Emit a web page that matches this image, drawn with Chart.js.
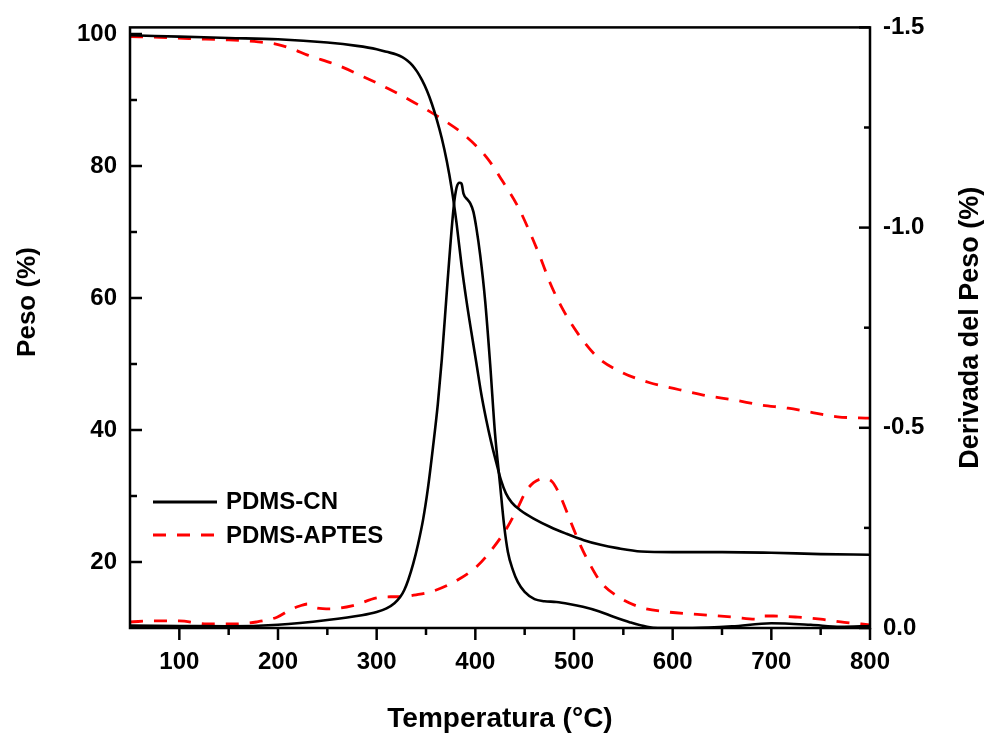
<!DOCTYPE html>
<html><head><meta charset="utf-8">
<script src="https://cdn.jsdelivr.net/npm/chart.js@4.4.1/dist/chart.umd.min.js"></script>
<style>html,body{margin:0;padding:0;background:#fff}#wrap{width:986px;height:733px;position:relative}</style>
</head><body><div id="wrap"><canvas id="c"></canvas></div>
<script>
const FONT = '"Liberation Sans", Arial, sans-serif';

// Temperature axis ticks
const xMajorTicks = [100, 200, 300, 400, 500, 600, 700, 800];
const leftTicks = [20, 40, 60, 80, 100];
const rightTicks = [-1.5, -1.0, -0.5, 0.0];

// PDMS-CN weight (%)
const cnTgT = [50,100,150,200,250,280,300,310,320,326,331,336,341,346,351,356,361,366,371,376,381,386,391,396,401,406,411,416,421,426,431,437,446,460,476,492,510,527,544,568,600,650,700,750,800];
const cnTgV = [99.8,99.6,99.4,99.2,98.7,98.2,97.7,97.3,96.9,96.5,96.0,95.3,94.3,93.0,91.4,89.4,87.0,84.2,80.8,76.6,71.3,65.0,59.6,54.8,50.2,45.5,41.6,38.2,35.2,32.4,30.4,29.0,27.8,26.5,25.3,24.3,23.3,22.6,22.1,21.6,21.5,21.5,21.4,21.2,21.1];

// PDMS-APTES weight (%)
const apTgT = [50,80,110,150,180,200,215,230,260,287,312,337,362,388,412,428,444,456,466,476,489,504,524,549,576,601,631,664,689,717,743,767,800];
const apTgV = [99.6,99.5,99.3,99.1,98.8,98.4,97.7,96.8,95.3,93.5,91.7,89.7,87.5,84.8,81.2,77.6,73.6,69.7,66.1,62.2,58.2,54.6,51.0,48.7,47.2,46.3,45.3,44.5,43.8,43.3,42.6,42.0,41.8];

// PDMS-CN derivative (%)
const cnDtT = [50,100,150,200,250,285,300,310,318,324,328,332,337,342,347,352,357,362,366,372,378,381,384,386,388,392,395,398,401,405,410,415,420,425,429,433,438,443,450,460,470,482,495,509,525,540,557,574,585,620,660,700,740,770,800];
const cnDtV = [-0.006,-0.005,-0.004,-0.008,-0.02,-0.032,-0.04,-0.049,-0.062,-0.078,-0.095,-0.12,-0.16,-0.21,-0.27,-0.35,-0.45,-0.56,-0.67,-0.87,-1.05,-1.10,-1.112,-1.11,-1.085,-1.07,-1.06,-1.04,-1.0,-0.93,-0.816,-0.66,-0.484,-0.36,-0.26,-0.19,-0.145,-0.115,-0.09,-0.072,-0.067,-0.065,-0.06,-0.053,-0.042,-0.028,-0.014,-0.003,0,0,-0.004,-0.012,-0.008,-0.003,-0.005];

// PDMS-APTES derivative (%)
const apDtT = [50,75,100,128,152,178,199,212,222,230,236,253,276,300,314,324,340,357,382,402,418,432,443,451,459,469,478,486,497,507,517,527,544,567,595,625,662,686,692,702,727,750,774,800];
const apDtV = [-0.015,-0.018,-0.018,-0.01,-0.01,-0.015,-0.027,-0.045,-0.055,-0.06,-0.052,-0.048,-0.056,-0.075,-0.078,-0.078,-0.083,-0.092,-0.12,-0.155,-0.2,-0.25,-0.3,-0.34,-0.363,-0.373,-0.365,-0.33,-0.263,-0.204,-0.155,-0.115,-0.079,-0.052,-0.04,-0.034,-0.027,-0.022,-0.03,-0.03,-0.027,-0.022,-0.014,-0.008];

const seriesNames = ['PDMS-CN', 'PDMS-APTES'];
const axisTitles = {x: 'Temperatura (°C)', y: 'Peso (%)', y2: 'Derivada del Peso (%)'};
const zip = (a, b) => a.map((x, i) => ({x, y: b[i]}));

const BLACK = '#000000', RED = '#ff0000', DASH = [13, 11];

const framePlugin = {
  id: 'frame',
  afterDraw(chart) {
    const {ctx, chartArea: a, scales} = chart;
    ctx.save();
    ctx.strokeStyle = '#000';
    ctx.lineWidth = 2.5;
    ctx.lineCap = 'butt';
    ctx.strokeRect(a.left, a.top, a.right - a.left, a.bottom - a.top);
    const line = (x1, y1, x2, y2) => { ctx.beginPath(); ctx.moveTo(x1, y1); ctx.lineTo(x2, y2); ctx.stroke(); };
    // x ticks (outward)
    for (let v = 100; v <= 800; v += 100) { const p = scales.x.getPixelForValue(v); line(p, a.bottom, p, a.bottom + 12); }
    for (let v = 150; v < 800; v += 100) { const p = scales.x.getPixelForValue(v); line(p, a.bottom, p, a.bottom + 7); }
    // left ticks (inward)
    leftTicks.forEach(v => { const p = scales.y.getPixelForValue(v); line(a.left, p, a.left + 12, p); });
    [30, 50, 70, 90].forEach(v => { const p = scales.y.getPixelForValue(v); line(a.left, p, a.left + 7, p); });
    // right ticks (inward)
    rightTicks.forEach(v => { const p = scales.y2.getPixelForValue(v); line(a.right, p, a.right - 11, p); });
    [-1.25, -0.75, -0.25].forEach(v => { const p = scales.y2.getPixelForValue(v); line(a.right, p, a.right - 6, p); });
    ctx.fillStyle = '#000';
    ctx.textAlign = 'center';
    ctx.textBaseline = 'middle';
    // left axis title
    ctx.save();
    ctx.font = 'bold 26px ' + FONT;
    ctx.translate(28, 302);
    ctx.rotate(-Math.PI / 2);
    ctx.fillText(axisTitles.y, 0, 0);
    ctx.restore();
    // right axis title
    ctx.save();
    ctx.font = 'bold 27px ' + FONT;
    ctx.translate(971, (a.top + a.bottom) / 2);
    ctx.rotate(-Math.PI / 2);
    ctx.fillText(axisTitles.y2, 0, 0);
    ctx.restore();
    ctx.restore();
    // legend
    ctx.save();
    ctx.lineWidth = 3;
    ctx.strokeStyle = BLACK;
    line(153, 502, 217, 502);
    ctx.strokeStyle = RED;
    ctx.setLineDash(DASH);
    line(153, 535, 217, 535);
    ctx.setLineDash([]);
    ctx.fillStyle = '#000';
    ctx.font = 'bold 24px ' + FONT;
    ctx.textAlign = 'left';
    ctx.textBaseline = 'middle';
    ctx.fillText(seriesNames[0], 226, 502);
    ctx.fillText(seriesNames[1], 226, 536);
    ctx.restore();
  }
};

new Chart(document.getElementById('c'), {
  type: 'line',
  data: {
    datasets: [
      {label: seriesNames[0], data: zip(cnTgT, cnTgV), yAxisID: 'y', borderColor: BLACK, borderWidth: 2.6},
      {label: seriesNames[0] + ' DTG', data: zip(cnDtT, cnDtV), yAxisID: 'y2', borderColor: BLACK, borderWidth: 2.6},
      {label: seriesNames[1], data: zip(apTgT, apTgV), yAxisID: 'y', borderColor: RED, borderWidth: 2.8, borderDash: DASH},
      {label: seriesNames[1] + ' DTG', data: zip(apDtT, apDtV), yAxisID: 'y2', borderColor: RED, borderWidth: 2.8, borderDash: DASH}
    ]
  },
  options: {
    responsive: true,
    maintainAspectRatio: false,
    animation: false,
    layout: {padding: {top: 25, left: 0, right: 0, bottom: 0}},
    elements: {point: {radius: 0}, line: {cubicInterpolationMode: 'monotone', fill: false}},
    plugins: {legend: {display: false}, tooltip: {enabled: false}},
    scales: {
      x: {
        type: 'linear', min: 50, max: 800,
        afterBuildTicks: s => { s.ticks = xMajorTicks.map(v => ({value: v})); },
        afterFit: s => { s.height = 105; },
        grid: {display: false, drawTicks: false},
        border: {display: false},
        ticks: {color: '#000', padding: 20, maxRotation: 0, autoSkip: false, font: {family: FONT, size: 24, weight: 'bold'}},
        title: {display: true, text: axisTitles.x, color: '#000', padding: {top: 0, bottom: 0}, font: {family: FONT, size: 28, weight: 'bold', lineHeight: 1}}
      },
      y: {
        type: 'linear', position: 'left', min: 10, max: 101,
        afterBuildTicks: s => { s.ticks = leftTicks.map(v => ({value: v})); },
        afterFit: s => { s.width = 130; },
        grid: {display: false, drawTicks: false},
        border: {display: false},
        ticks: {color: '#000', padding: 13, font: {family: FONT, size: 24, weight: 'bold'}},
        title: {display: false}
      },
      y2: {
        type: 'linear', position: 'right', min: -1.5, max: 0, reverse: true,
        afterBuildTicks: s => { s.ticks = rightTicks.map(v => ({value: v})); },
        afterFit: s => { s.width = 116; },
        grid: {display: false, drawTicks: false},
        border: {display: false},
        ticks: {color: '#000', padding: 13, font: {family: FONT, size: 24, weight: 'bold'}, callback: v => Number(v).toFixed(1)},
        title: {display: false}
      }
    }
  },
  plugins: [framePlugin]
});
</script></body></html>
